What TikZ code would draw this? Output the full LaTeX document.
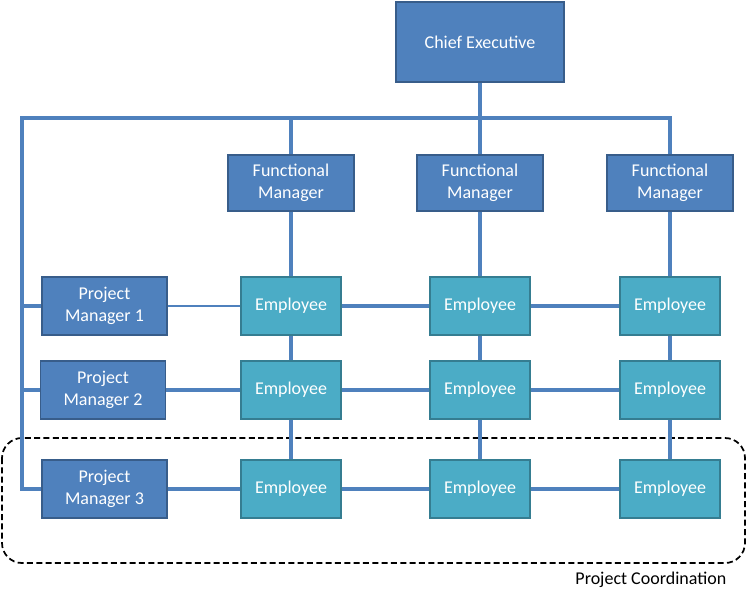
\documentclass[tikz,border=0pt]{standalone}
\usepackage{fontspec}
\setmainfont{Carlito}
\usepackage{xcolor}
\usetikzlibrary{calc}
\definecolor{mgrblue}{HTML}{4F81BD}
\definecolor{mgrborder}{HTML}{385D8A}
\definecolor{empteal}{HTML}{4BACC6}
\definecolor{empborder}{HTML}{357D91}

\begin{document}
\begin{tikzpicture}[x=0.75pt, y=-0.75pt,
  mgr/.style={draw=mgrborder, fill=mgrblue, line width=1.2pt, text=white, align=center, font=\fontsize{13.5}{16.5}\selectfont, inner sep=0pt},
  emp/.style={draw=empborder, fill=empteal, line width=1.2pt, text=white, align=center, font=\fontsize{13.5}{16.5}\selectfont, inner sep=0pt, minimum width=75pt, minimum height=43.5pt},
  link/.style={draw=mgrblue, line width=2.6pt}]
\useasboundingbox (0,0) rectangle (746,600);
% project coordination frame
\draw[black, line width=1.3pt, dash pattern=on 4.5pt off 2.5pt, rounded corners=15pt] (2,438) rectangle (745,563);
\node[anchor=base east, font=\fontsize{13.5}{16.5}\selectfont] (coord) at (731,584) {Project Coordination};
% managers
\node[mgr, minimum width=126pt, minimum height=60pt] (ce) at (480,42) {Chief Executive};
\foreach \n/\x in {1/291,2/480,3/670} {
 \node[mgr, minimum width=94.5pt, minimum height=42pt] (fm\n) at (\x,183) {Functional\\Manager};
}
\foreach \n/\x/\y in {1/104.5/306,2/103/390,3/104.5/489} {
 \node[mgr, minimum width=94pt, minimum height=43.5pt] (pm\n) at (\x,\y) {Project\\Manager \n};
}
% employees
\foreach \r/\y in {1/306,2/390,3/489} {
 \foreach \c/\x in {1/291,2/480,3/670} {
  \node[emp] (e\r\c) at (\x,\y) {Employee};
 }
}
% lines
\coordinate (bus) at (22,118);
\draw[link] (ce) -- (fm2);
\draw[link] (pm3.west) -| (bus) -| (fm3.north);
\draw[link] (fm1.north |- bus) -- (fm1.north);
\foreach \n in {1,2} \draw[link] (pm\n.west) -- (pm\n.west -| bus);
\draw[mgrblue, line width=0.8pt] (pm1) -- (e11);
\draw[link] (pm2) -- (e21);
\draw[link] (pm3) -- (e31);
\foreach \c in {1,2,3} {
 \draw[link] (fm\c) -- (e1\c);
 \draw[link] (e1\c) -- (e2\c);
 \draw[link] (e2\c) -- (e3\c);
}
\foreach \r in {1,2,3} {
 \draw[link] (e\r1) -- (e\r2);
 \draw[link] (e\r2) -- (e\r3);
}
\end{tikzpicture}
\end{document}
